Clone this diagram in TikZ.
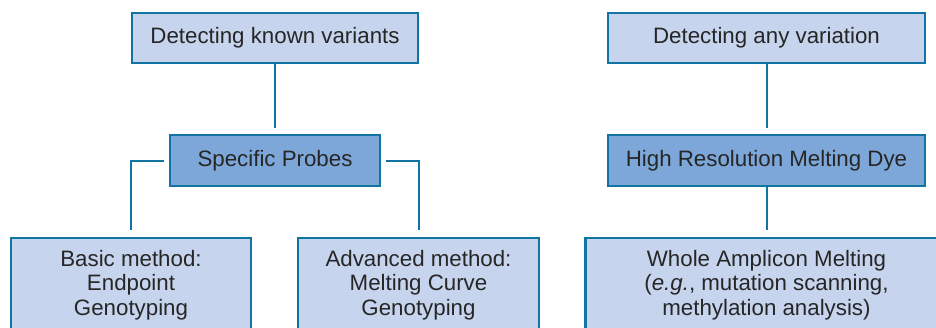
\documentclass[tikz,border=0pt]{standalone}
\usepackage{fontspec}
\setmainfont{Liberation Sans}
\definecolor{bordc}{HTML}{1174A2}
\definecolor{lightf}{HTML}{C6D4EE}
\definecolor{darkf}{HTML}{7DA7D9}
\definecolor{txtc}{HTML}{262626}
\tikzset{
  box/.style={draw=bordc, line width=2.7pt, outer sep=0pt, inner sep=0pt, align=center,
    text=txtc, font=\fontsize{22.3}{24.6}\selectfont},
  lightbox/.style={box, fill=lightf},
  darkbox/.style={box, fill=darkf},
  lowbox/.style={fill=lightf, outer sep=0pt, inner sep=0pt, align=center, text=txtc,
    font=\fontsize{22.3}{24.6}\selectfont, minimum height=94pt},
  lowborder/.style={draw=bordc, line width=2.7pt},
  conn/.style={draw=bordc, line width=2pt},
}
\begin{document}
\begin{tikzpicture}[x=1pt,y=-1pt]
\useasboundingbox (0,0) rectangle (936,327);
\fill[white] (0,0) rectangle (936,327);
% top row
\node[lightbox, minimum width=286pt, minimum height=50pt] (known) at (275,38) {Detecting known variants};
\node[lightbox, minimum width=317pt, minimum height=50pt] (any) at (766.5,38) {Detecting any variation};
% middle row
\node[darkbox, minimum width=210pt, minimum height=51pt] (probes) at (275,160.5) {Specific Probes};
\node[darkbox, minimum width=317pt, minimum height=51pt] (hrm) at (766.5,160.5) {High Resolution Melting Dye};
% bottom row
\node[lowbox, minimum width=240pt] (basic) at (131,285) {Basic method:\\Endpoint\\Genotyping};
\node[lowbox, minimum width=241pt] (adv) at (418.5,285) {Advanced method:\\Melting Curve\\Genotyping};
\node[lowbox, minimum width=362pt] (whole) at (766.5,285) {Whole Amplicon Melting\\(\textit{e.g.}, mutation scanning,\\methylation analysis)};
\foreach \n in {basic,adv,whole}{
  \draw[lowborder] (\n.south west) -- (\n.north west) -- (\n.north east) -- (\n.south east);
}
% connectors
\draw[conn, shorten >=7pt] (known.south) -- (probes.north);
\draw[conn, shorten >=7pt] (any.south) -- (hrm.north);
\draw[conn, shorten >=8pt] (hrm.south) -- (whole.north);
\draw[conn, shorten <=6pt, shorten >=8pt] (probes.west) -| (basic.north);
\draw[conn, shorten <=6pt, shorten >=8pt] (probes.east) -| (adv.north);
\end{tikzpicture}
\end{document}
